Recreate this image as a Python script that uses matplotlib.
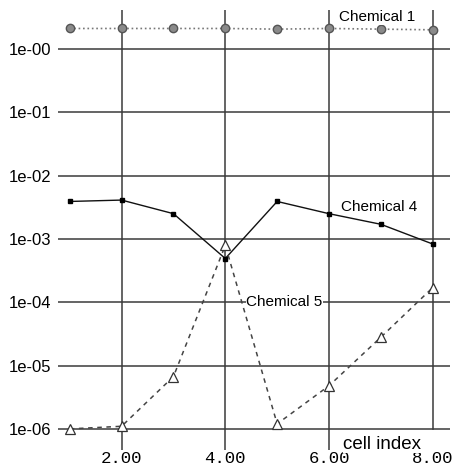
import matplotlib.pyplot as plt
from matplotlib.ticker import FixedLocator

# cell index
cells = [1, 2, 3, 4, 5, 6, 7, 8]

# concentrations
chem1 = [2.1, 2.1, 2.1, 2.1, 2.05, 2.1, 2.05, 2.0]
chem4 = [3.9e-3, 4.1e-3, 2.5e-3, 4.9e-4, 3.9e-3, 2.5e-3, 1.7e-3, 8.3e-4]
chem5 = [1.0e-6, 1.1e-6, 6.7e-6, 7.9e-4, 1.2e-6, 4.8e-6, 2.8e-5, 1.7e-4]

x_ticks = [2, 4, 6, 8]
x_tick_labels = ['2.00', '4.00', '6.00', '8.00']
y_ticks = [1e0, 1e-1, 1e-2, 1e-3, 1e-4, 1e-5, 1e-6]
y_tick_labels = ['1e-00', '1e-01', '1e-02', '1e-03', '1e-04', '1e-05', '1e-06']

ylo, yhi = -6.33, 0.616

fig = plt.figure(figsize=(4.59, 4.70), dpi=100)
ax = fig.add_axes([0.126, 0.043, 0.854, 0.936])

ax.set_yscale('log')
ax.set_xlim(0.77, 8.33)
ax.set_ylim(10 ** ylo, 10 ** yhi)

for s in ax.spines.values():
    s.set_visible(False)

ax.xaxis.set_major_locator(FixedLocator(x_ticks))
ax.set_xticklabels(x_tick_labels, family='Liberation Mono', fontsize=12.5)
ax.yaxis.set_major_locator(FixedLocator(y_ticks))
ax.yaxis.set_minor_locator(FixedLocator([]))
ax.set_yticklabels(y_tick_labels, family='Liberation Sans', fontsize=12)
ax.tick_params(axis='both', length=0)
ax.tick_params(axis='y', pad=5)
ax.tick_params(axis='x', pad=1)

grid_kw = dict(color='#3a3a3a', lw=1.1, zorder=1)
ax.grid(True, axis='y', which='major', **grid_kw)
# vertical lines; the last one stops on the 1e-06 line
bottom_frac = (-6 - ylo) / (yhi - ylo)
for xv in x_ticks:
    ax.axvline(xv, ymin=bottom_frac if xv == x_ticks[-1] else 0, **grid_kw)
ax.set_axisbelow(True)

ax.plot(cells, chem1, linestyle=':', color='#777777', lw=1.2,
        marker='o', ms=6, mfc='#8a8a8a', mec='#555555', mew=1.0, zorder=3)
ax.plot(cells, chem4, linestyle='-', color='#111111', lw=1.0,
        marker='s', ms=3.5, mfc='black', mec='black', zorder=3)
ax.plot(cells, chem5, linestyle='--', color='#444444', lw=1.1, dashes=(3, 3),
        marker='^', ms=7, mfc='white', mec='#333333', mew=0.9, zorder=3)

txt = dict(family='Liberation Sans', fontsize=11, ha='center', va='center',
           bbox=dict(facecolor='white', edgecolor='none', pad=0.5), zorder=4)
ax.text(6.92, 3.2, 'Chemical 1', **txt)
ax.text(6.97, 3.2e-3, 'Chemical 4', **txt)
ax.text(5.14, 1.0e-4, 'Chemical 5', **txt)
ax.text(7.03, 10 ** -6.24, 'cell index', **dict(txt, fontsize=13.5))

plt.savefig('out.png', dpi=100)
